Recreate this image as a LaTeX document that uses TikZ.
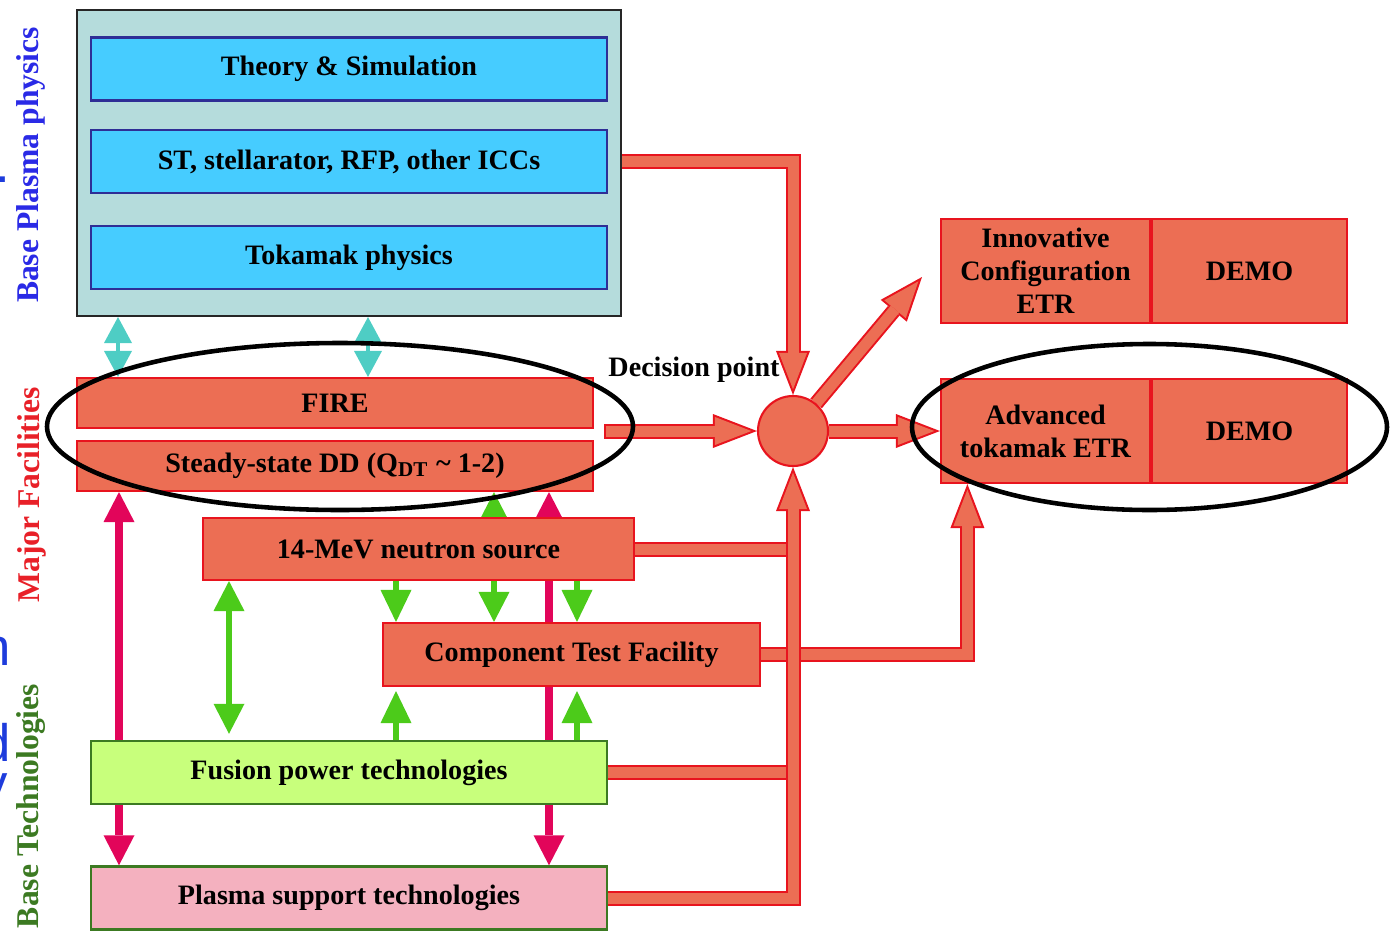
\documentclass[tikz,border=0pt]{standalone}
\usepackage{fontspec}
\setmainfont{Liberation Serif}
\setsansfont{Liberation Sans}
\usetikzlibrary{arrows.meta,positioning,shapes.geometric,calc,backgrounds}
\definecolor{physteal}{HTML}{B5DCDC}
\definecolor{physblue}{HTML}{46CCFF}
\definecolor{physnavy}{HTML}{2E2E96}
\definecolor{facsalmon}{HTML}{EC6E54}
\definecolor{facred}{HTML}{E8141E}
\definecolor{tealarr}{HTML}{4ECDC4}
\definecolor{greenarr}{HTML}{4CCB1A}
\definecolor{magarr}{HTML}{E2055A}
\definecolor{fusgreen}{HTML}{C8FF7C}
\definecolor{plaspink}{HTML}{F4B1BF}
\definecolor{techgreen}{HTML}{3C7A22}
\definecolor{lblblue}{HTML}{2A2AE6}
\definecolor{lblred}{HTML}{E82028}
\definecolor{slideblue}{HTML}{1E3CDC}

\begin{document}
\begin{tikzpicture}[
    every node/.style={font=\bfseries\fontsize{8}{9.4}\selectfont, inner sep=0pt, align=center},
    outerbox/.style={fill=physteal, draw=black!85, line width=0.6pt, minimum width=5.44cm, minimum height=3.06cm},
    bluebox/.style={fill=physblue, draw=physnavy, line width=0.7pt, minimum width=5.16cm, minimum height=0.63cm},
    facbox/.style={fill=facsalmon, draw=facred, line width=0.6pt},
    techbox/.style={draw=techgreen, line width=0.7pt, minimum width=5.16cm, minimum height=0.63cm},
    sidelabel/.style={rotate=90, font=\bfseries\fontsize{9}{10}\selectfont},
    fragment/.style={font=\sffamily\fontsize{15}{18}\selectfont, text=slideblue, anchor=base east},
    ring/.style={ellipse, draw=black, line width=1.3pt},
    pipe/.style={draw=facred, line width=1.5mm,
      postaction={draw=facsalmon, line width=1.1mm}},
    pipeto/.style={draw=facred, line width=1.5mm,
      -{Triangle[width=3.4mm,length=4.4mm,line width=0pt]},
      postaction={draw=facsalmon, line width=1.1mm, shorten <=#1, shorten >=0.56mm,
        -{Triangle[width=2.8mm,length=3.64mm,line width=0pt]}}},
    pipeto/.default=0mm,
    linkboth/.style={line width=#1,
      {Triangle[width=3.1mm,length=3mm,line width=0pt]}-{Triangle[width=3.1mm,length=3mm,line width=0pt]}},
    tealboth/.style={line width=0.4mm, draw=tealarr,
      {Triangle[width=2.8mm,length=2.6mm,line width=0pt]}-{Triangle[width=2.8mm,length=2.6mm,line width=0pt]}},
    linkto/.style={line width=#1, -{Triangle[width=3.1mm,length=3.2mm,line width=0pt]}}
  ]
  \useasboundingbox (0,0) rectangle (13.91,9.34);
  \clip (0,0) rectangle (13.91,9.34);

  % ---- Left hand labels ----
  \node[sidelabel, text=lblblue] (lblphys) at (0.31,7.69) {Base Plasma physics};
  \node[sidelabel, text=lblred] (lblfac) at (0.32,4.39) {Major Facilities};
  \node[sidelabel, text=techgreen] (lbltech) at (0.31,1.28) {Base Technologies};
  % cut-off slide text at the edge
  \node[fragment] (fragdot) at (0.11,7.52) {.};
  \node[fragment] (fragn) at (0.115,2.69) {n};
  \node[fragment] (fragd) at (0.115,1.73) {d};
  \node[fragment] (fragy) at (0.09,1.33) {y};

  % ---- Base plasma physics ----
  \node[outerbox] (outer) at (3.49,7.71) {};
  \node[bluebox] (theory) at (3.49,8.65) {Theory \& Simulation};
  \node[bluebox] (icc) at (3.49,7.725) {ST, stellarator, RFP, other ICCs};
  \node[bluebox] (tokphys) at (3.49,6.765) {Tokamak physics};

  % ---- Major facilities ----
  \node[facbox, minimum width=5.16cm, minimum height=0.50cm] (fire) at (3.35,5.31) {FIRE};
  \node[facbox, minimum width=5.16cm, minimum height=0.50cm] (steady) at (3.35,4.68)
    {Steady-state DD (Q\textsubscript{DT} \textasciitilde{} 1-2)};
  \node[facbox, minimum width=4.31cm, minimum height=0.62cm] (neutron) at (4.185,3.85) {14-MeV neutron source};
  \node[facbox, minimum width=3.77cm, minimum height=0.63cm] (ctf) at (5.715,2.795) {Component Test Facility};

  % ---- Base technologies ----
  \node[techbox, fill=fusgreen] (fusion) at (3.49,1.615) {Fusion power technologies};
  \node[techbox, fill=plaspink] (plasma) at (3.49,0.36) {Plasma support technologies};

  % ---- Decision point and next steps ----
  \node[facbox, circle, minimum size=0.70cm] (dp) at (7.93,5.03) {};
  \node (dplabel) at (6.94,5.64) {Decision point};
  \node[facbox, minimum width=2.09cm, minimum height=1.04cm] (inno) at (10.455,6.63) {Innovative\\Configuration\\ETR};
  \node[facbox, minimum width=1.95cm, minimum height=1.04cm, right=0pt of inno] (demoA) {DEMO};
  \node[facbox, minimum width=2.09cm, minimum height=1.04cm] (adv) at (10.455,5.03) {Advanced\\tokamak ETR};
  \node[facbox, minimum width=1.95cm, minimum height=1.04cm, right=0pt of adv] (demoB) {DEMO};

  % free ends and arrow columns
  \coordinate (feedin) at (6.04,5.03);
  \coordinate (innotip) at (9.22,6.57);
  \coordinate (advin) at ($(adv.south west)!0.13!(adv.south east)$);
  \coordinate (tA) at (1.18,0);
  \coordinate (tB) at (3.68,0);
  \coordinate (mA) at (1.19,0);
  \coordinate (mB) at (5.49,0);
  \coordinate (gA) at (2.29,0);
  \coordinate (gB) at (3.96,0);
  \coordinate (gC) at (4.94,0);
  \coordinate (gD) at (5.77,0);

  \begin{scope}[on background layer]
    % links between the programme elements
    \draw[tealboth] (outer.south -| tA) -- (fire.north -| tA);
    \draw[tealboth] (outer.south -| tB) -- (fire.north -| tB);
    \draw[linkboth=0.75mm, magarr] (steady.south -| mA) -- (plasma.north -| mA);
    \draw[linkboth=0.75mm, magarr] (steady.south -| mB) -- (plasma.north -| mB);
    \draw[linkboth=0.55mm, greenarr, shorten >=0.6mm] (neutron.south -| gA) -- (fusion.north -| gA);
    \draw[linkboth=0.55mm, greenarr] (steady.south -| gC) -- (ctf.north -| gC);
    \draw[linkto=0.55mm, greenarr] (neutron.south -| gB) -- (ctf.north -| gB);
    \draw[linkto=0.55mm, greenarr] (neutron.south -| gD) -- (ctf.north -| gD);
    \draw[linkto=0.55mm, greenarr, shorten >=0.4mm] (fusion.north -| gB) -- (ctf.south -| gB);
    \draw[linkto=0.55mm, greenarr, shorten >=0.4mm] (fusion.north -| gD) -- (ctf.south -| gD);

    % pipes into the decision point
    \draw[pipeto] (icc.east -| outer.east) -| (dp.north);
    \draw[pipeto=0.2mm] (feedin) -- (dp.west);
    \draw[pipe] (neutron.east) -- (neutron.east -| dp);
    \draw[pipe] (fusion.east) -- (fusion.east -| dp);
    \draw[pipeto] (ctf.east) -| (advin);
    \draw[pipeto] (plasma.east) -| (dp.south);
    % pipes out of it
    \draw[pipeto] (dp.50) -- (innotip);
    \draw[pipeto] (dp.east) -- (adv.west);
  \end{scope}

  % ---- Rings ----
  \node[ring, minimum width=5.86cm, minimum height=1.67cm] (ringA) at (3.40,5.075) {};
  \node[ring, minimum width=4.75cm, minimum height=1.66cm] (ringB) at (11.495,5.07) {};

\end{tikzpicture}
\end{document}
